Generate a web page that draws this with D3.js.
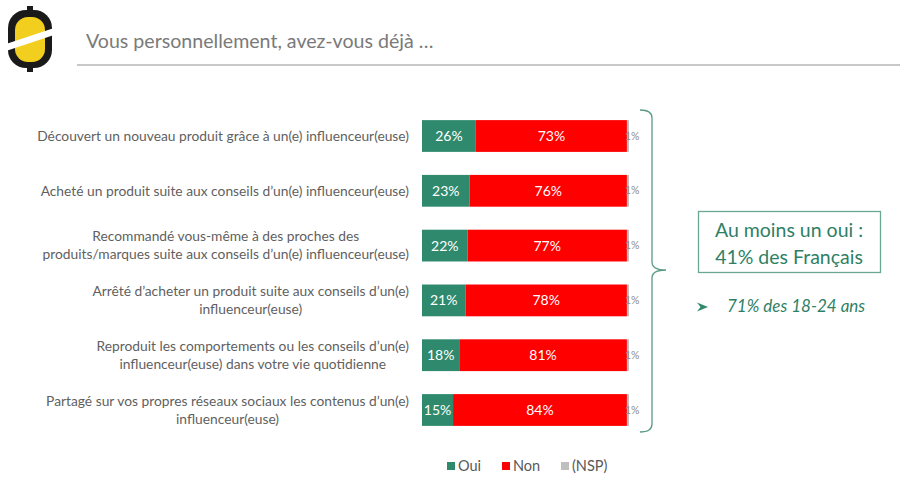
<!DOCTYPE html>
<html>
<head>
<meta charset="utf-8">
<script src="https://cdn.jsdelivr.net/npm/d3@7"></script>
<style>
  body { margin: 0; background: #fff; }
  svg { font-family: Lato, "Open Sans", sans-serif; }
</style>
</head>
<body>
<div id="chart"></div>
<script>
// data
const categories = [
  ["Découvert un nouveau produit grâce à un(e) influenceur(euse)"],
  ["Acheté un produit suite aux conseils d’un(e) influenceur(euse)"],
  ["Recommandé vous-même à des proches des", "produits/marques suite aux conseils d’un(e) influenceur(euse)"],
  ["Arrêté d’acheter un produit suite aux conseils d’un(e)", "influenceur(euse)"],
  ["Reproduit les comportements ou les conseils d’un(e)", "influenceur(euse) dans votre vie quotidienne"],
  ["Partagé sur vos propres réseaux sociaux les contenus d’un(e)", "influenceur(euse)"]
];
const oui = [26, 23, 22, 21, 18, 15];
const non = [73, 76, 77, 78, 81, 84];
const nsp = [1, 1, 1, 1, 1, 1];
const seriesNames = ["Oui", "Non", "(NSP)"];
const colors = ["#2f8a6d", "#ff0000", "#bfbfbf"];

const width = 900, height = 491;
const labelRight = 409;

const svg = d3.select("#chart").append("svg")
  .attr("width", width)
  .attr("height", height);

// logo
const logo = svg.append("g").attr("transform", "translate(30,39)");
logo.append("rect").attr("x", -22).attr("y", -29).attr("width", 44).attr("height", 58)
  .attr("rx", 18).attr("fill", "#1a1a1a");
logo.append("rect").attr("x", -15).attr("y", -22).attr("width", 30).attr("height", 45)
  .attr("rx", 13).attr("fill", "#f2cf1f");
logo.append("path").attr("d", "M-24,5 L24,-11 L24,-4 L-24,12 Z").attr("fill", "#fff");
logo.append("rect").attr("x", -3).attr("y", -33).attr("width", 6).attr("height", 5).attr("fill", "#1a1a1a");
logo.append("rect").attr("x", -3).attr("y", 28).attr("width", 6).attr("height", 5).attr("fill", "#1a1a1a");

// title
svg.append("text")
  .attr("x", 86).attr("y", 48)
  .attr("fill", "#7a7a7a")
  .attr("font-size", 19.6)
  .text("Vous personnellement, avez-vous déjà …");
svg.append("line")
  .attr("x1", 77).attr("x2", 900).attr("y1", 65).attr("y2", 65)
  .attr("stroke", "#c8c8c8").attr("stroke-width", 2);

// scales
const xScale = d3.scaleLinear().domain([0, 100]).range([422, 629]);
const yScale = d3.scaleBand()
  .domain(d3.range(categories.length))
  .range([108.6, 437.4])
  .paddingInner(0.42)
  .paddingOuter(0.21);

const stackData = categories.map((c, i) => ({ i, Oui: oui[i], Non: non[i], "(NSP)": nsp[i] }));
const stacked = d3.stack().keys(seriesNames)(stackData);

const layers = svg.append("g").selectAll("g")
  .data(stacked)
  .join("g")
  .attr("fill", (d, k) => colors[k]);

layers.selectAll("rect")
  .data(d => d)
  .join("rect")
  .attr("x", d => xScale(d[0]))
  .attr("y", d => yScale(d.data.i))
  .attr("width", d => xScale(d[1]) - xScale(d[0]))
  .attr("height", yScale.bandwidth());

// value labels
layers.each(function (layer, k) {
  d3.select(this).selectAll("text")
    .data(layer)
    .join("text")
    .attr("x", d => k === 2 ? xScale(d[0]) - 2 : (xScale(d[0]) + xScale(d[1])) / 2)
    .attr("y", d => yScale(d.data.i) + yScale.bandwidth() / 2)
    .attr("dy", "0.35em")
    .attr("text-anchor", k === 2 ? "start" : "middle")
    .attr("fill", k === 2 ? "#8c8c8c" : "#fff")
    .attr("font-size", k === 2 ? 10.5 : 14)
    .text(d => (d[1] - d[0]) + "%");
});

// category labels: centered lines, block right-aligned
const labels = svg.append("g").attr("fill", "#5f5f5f").attr("font-size", 13.8);
categories.forEach((lines, i) => {
  const g = labels.append("g");
  const cy = yScale(i) + yScale.bandwidth() / 2;
  const lh = 18;
  const t = g.selectAll("text").data(lines).join("text")
    .attr("y", (d, j) => cy + (j - (lines.length - 1) / 2) * lh)
    .attr("dy", "0.35em")
    .attr("text-anchor", "middle")
    .text(d => d);
  const maxW = d3.max(t.nodes(), n => n.getComputedTextLength());
  t.attr("x", labelRight - maxW / 2);
});

// brace
const braceColor = "#5a9a86";
svg.append("path")
  .attr("d", "M640,110 Q652,110 652,118 L652,262 Q652,270 666,270 Q652,270 652,278 L652,424 Q652,432 640,432")
  .attr("fill", "none")
  .attr("stroke", braceColor)
  .attr("stroke-width", 1.3);

// callout box
svg.append("rect")
  .attr("x", 698.5).attr("y", 211.5).attr("width", 182).attr("height", 61)
  .attr("fill", "#fff").attr("stroke", "#6aa894").attr("stroke-width", 1.3);
svg.append("text")
  .attr("x", 789).attr("y", 237)
  .attr("text-anchor", "middle").attr("fill", "#2f7f66").attr("font-size", 19.5)
  .text("Au moins un oui :");
svg.append("text")
  .attr("x", 789).attr("y", 264)
  .attr("text-anchor", "middle").attr("fill", "#2f7f66").attr("font-size", 19.5)
  .text("41% des Français");
svg.append("path")
  .attr("d", "M697,302.5 L708,307 L697,311.5 L700.5,307 Z")
  .attr("fill", "#2f8a6d");
svg.append("text")
  .attr("x", 727).attr("y", 312)
  .attr("fill", "#2f7f66").attr("font-size", 17).attr("font-style", "italic")
  .text("71% des 18-24 ans");

// legend
const legendX = [447, 502, 561];
const legend = svg.append("g").selectAll("g")
  .data(seriesNames)
  .join("g")
  .attr("transform", (d, k) => `translate(${legendX[k]},466)`);
legend.append("rect")
  .attr("x", 0).attr("y", -4).attr("width", 8).attr("height", 8)
  .attr("fill", (d, k) => colors[k]);
legend.append("text")
  .attr("x", 11).attr("dy", "0.35em")
  .attr("fill", "#595959").attr("font-size", 14.5)
  .text(d => d);
</script>
</body>
</html>
